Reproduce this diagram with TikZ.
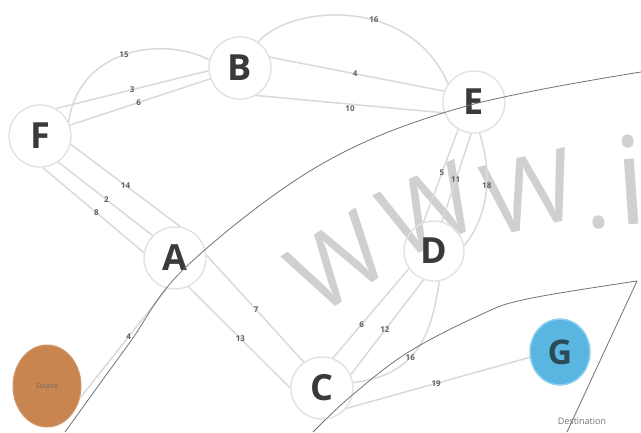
\documentclass[tikz,border=0pt]{standalone}
\usepackage{fontspec}
\setmainfont{Open Sans}
\usetikzlibrary{shapes.geometric}
\definecolor{edgec}{HTML}{DADADA}
\definecolor{ringc}{HTML}{E2E2E2}
\definecolor{letterc}{HTML}{3A3A3A}
\definecolor{srcc}{HTML}{C98550}
\definecolor{srcd}{HTML}{D49868}
\definecolor{gfill}{HTML}{58B6E0}
\definecolor{gring}{HTML}{8FD0EE}
\definecolor{gtext}{HTML}{2C4A58}
\definecolor{wmc}{HTML}{D0D0D0}
\begin{document}
\begin{tikzpicture}[x=1pt,y=-1pt,
  vnode/.style={circle,draw=ringc,line width=1.4pt,minimum size=62pt,inner sep=0pt,
    font=\fontsize{36}{36}\selectfont\bfseries,text=letterc},
  edge/.style={draw=edgec,line width=1.5pt},
  wt/.style={font=\fontsize{8}{8}\selectfont\bfseries,text=black!62,inner sep=0.5pt},
  wm/.style={font=\fontsize{100}{100}\selectfont,text=wmc,inner sep=0pt},
  arcline/.style={draw=black!55,line width=0.8pt}
]
\path[use as bounding box,fill=white] (0,0) rectangle (641,432);

% watermark letters
\node[wm,rotate=33] (w1) at (338,262) {W};
\node[wm,rotate=24] (w2) at (428,210) {W};
\node[wm,rotate=13] (w3) at (530,192) {W};
\node[wm,rotate=8,anchor=base] (w4) at (600,228) {.};
\node[wm,rotate=4,anchor=base,font=\fontsize{122}{122}\selectfont] (w5) at (634,224) {i};

% nodes
\node[vnode] (F) at (40,136) {F};
\node[vnode] (B) at (240,68) {B};
\node[vnode] (E) at (474,102) {E};
\node[vnode] (A) at (175,258) {A};
\node[vnode,minimum size=60pt] (D) at (434,251) {D};
\node[vnode] (C) at (322,388) {C};
\node[ellipse,fill=gfill,draw=gring,line width=1.5pt,minimum width=60pt,minimum height=66pt,inner sep=0pt,
  font=\fontsize{34}{34}\selectfont\bfseries,text=gtext] (G) at (560,352) {G};
\node[ellipse,fill=srcc,draw=srcd,line width=1pt,minimum width=68pt,minimum height=82pt,inner sep=0pt,
  font=\fontsize{7}{7}\selectfont,text=black!60] (S) at (47,386) {Source};
\node[font=\fontsize{9}{9}\selectfont,text=black!55] (dest) at (582,421) {Destination};

% edges F-B
\draw[edge] (F.25) .. controls (78,50) and (160,35) .. node[wt,pos=0.5] {15} (B.165);
\draw[edge] (F.60) -- node[wt,pos=0.5] {3} (B.185);
\draw[edge] (F.20) -- node[wt,pos=0.49] {6} (B.200);
% edges B-E
\draw[edge] (B.55) .. controls (290,5) and (410,-5) .. node[wt,pos=0.6] {16} (E.145);
\draw[edge] (B.20) -- node[wt,pos=0.49] {4} (E.160);
\draw[edge] (B.300) -- node[wt,pos=0.5,yshift=-4pt] {10} (E.200);
% edges F-A
\draw[edge] (F.345) -- node[wt,pos=0.5] {14} (A.80);
\draw[edge] (F.305) -- node[wt,pos=0.51] {2} (A.135);
\draw[edge] (F.275) -- node[wt,pos=0.53] {8} (A.170);
% edges A-C
\draw[edge] (A.5) -- node[wt,pos=0.51] {7} (C.125);
\draw[edge] (A.295) -- node[wt,pos=0.51] {13} (C.180);
% source - A
\draw[edge] (S.340) -- node[wt,pos=0.56] {4} (A.255);
% edges E-D
\draw[edge] (E.240) -- node[wt,pos=0.47] {5} (D.110);
\draw[edge] (E.265) -- node[wt,pos=0.53] {11} (D.75);
\draw[edge] (E.280) .. controls (495,180) and (485,220) .. node[wt,pos=0.4] {18} (D.10);
% edges D-C
\draw[edge] (C.70) -- node[wt,pos=0.38] {6} (D.215);
\draw[edge] (C.25) -- node[wt,pos=0.47] {12} (D.250);
\draw[edge] (D.280) .. controls (432,330) and (420,375) .. node[wt,pos=0.6] {16} (C.10);
% edge C-G
\draw[edge] (C.320) -- node[wt,pos=0.49] {19} (G.190);

% watermark lines
\draw[arcline] plot[smooth,tension=0.6] coordinates {(65,432) (128,345) (187,266) (320,165) (463,107) (641,72)};
\draw[arcline] plot[smooth,tension=0.6] coordinates {(313,432) (350,397) (407,353) (480,315) (527,299) (637,281)} -- (567,432);
\end{tikzpicture}
\end{document}
